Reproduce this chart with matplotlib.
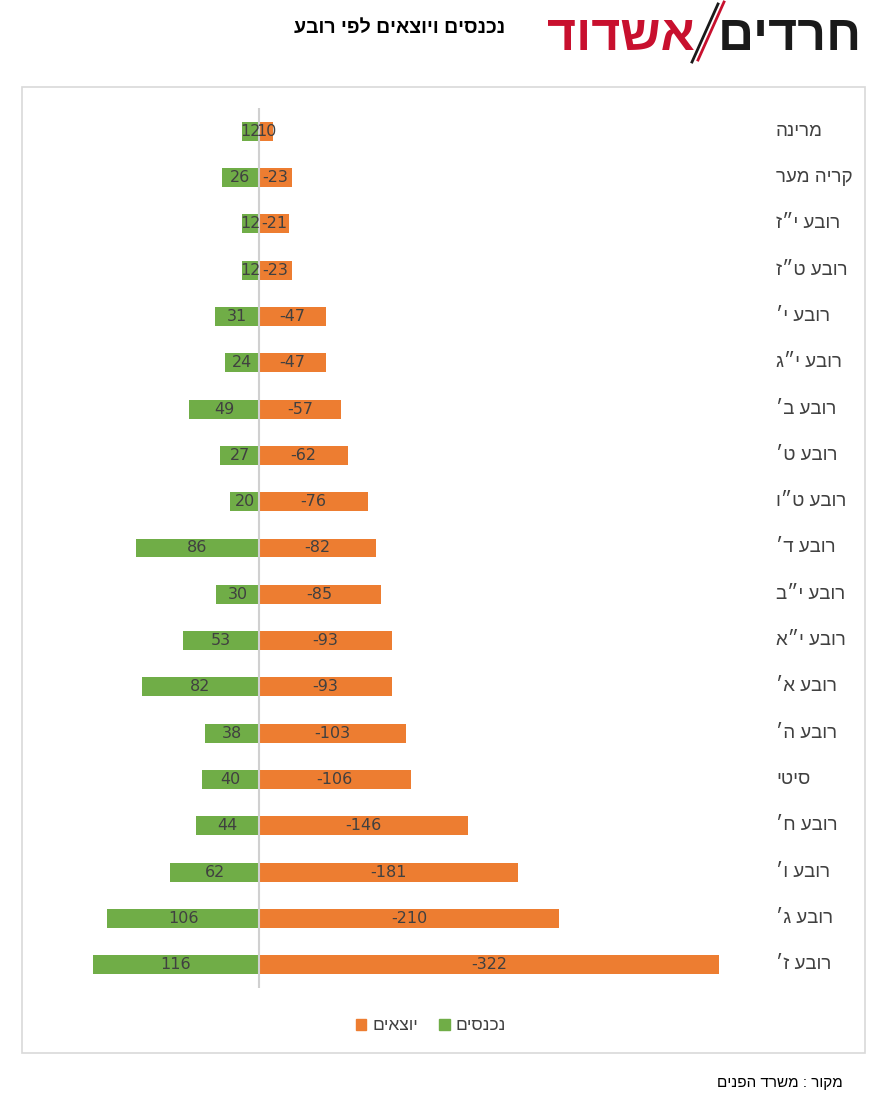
import matplotlib
matplotlib.use('Agg')
import matplotlib.pyplot as plt
from matplotlib.patches import Rectangle
from matplotlib.lines import Line2D
from matplotlib.transforms import blended_transform_factory

plt.rcParams['font.family'] = ['Liberation Sans', 'DejaVu Sans']

# data, top row first
areas = ['מרינה', 'קריה מער', 'רובע י״ז', 'רובע ט״ז', 'רובע י׳', 'רובע י״ג',
         'רובע ב׳', 'רובע ט׳', 'רובע ט״ו', 'רובע ד׳', 'רובע י״ב', 'רובע י״א',
         'רובע א׳', 'רובע ה׳', 'סיטי', 'רובע ח׳', 'רובע ו׳', 'רובע ג׳', 'רובע ז׳']
incoming = [12, 26, 12, 12, 31, 24, 49, 27, 20, 86, 30, 53, 82, 38, 40, 44, 62, 106, 116]
outgoing = [10, 23, 21, 23, 47, 47, 57, 62, 76, 82, 85, 93, 93, 103, 106, 146, 181, 210, 322]
out_labels = ['10', '-23', '-21', '-23', '-47', '-47', '-57', '-62', '-76', '-82', '-85',
              '-93', '-93', '-103', '-106', '-146', '-181', '-210', '-322']

title = 'נכנסים ויוצאים לפי רובע'
source = 'מקור : משרד הפנים'
leg_in = 'נכנסים'
leg_out = 'יוצאים'

GREEN = '#70ad47'
ORANGE = '#ed7d31'
TXT = '#404040'


def heb(s):
    # matplotlib has no bidi, so flip to visual order
    return s[::-1]


W, H = 890, 1110
fig = plt.figure(figsize=(W / 100, H / 100), dpi=100)

# chart frame
fig.patches.append(Rectangle((22 / W, 1 - 1053 / H), (865 - 22) / W, (1053 - 87) / H,
                             transform=fig.transFigure, fill=False,
                             edgecolor='#d9d9d9', lw=1.2))

ax = fig.add_axes([80 / W, 1 - 988 / H, (740 - 80) / W, (988 - 108) / H])
n = len(areas)
ys = list(range(n))
xmin = -(259 - 80) / 1.43
xmax = (740 - 259) / 1.43

ax.barh(ys, [-v for v in incoming], height=0.41, color=GREEN)
ax.barh(ys, outgoing, height=0.41, color=ORANGE)
ax.axvline(0, color='#d0d0d0', lw=1.5, zorder=3)

lab_tr = blended_transform_factory(fig.transFigure, ax.transData)
for y, a, b, lb in zip(ys, incoming, outgoing, out_labels):
    ax.text(-a / 2, y, str(a), ha='center', va='center', fontsize=11.5,
            color=TXT, zorder=4, family='DejaVu Sans')
    ax.text(b / 2, y, lb, ha='center', va='center', fontsize=11.5,
            color=TXT, zorder=4, family='DejaVu Sans')
    ax.text(776 / W, y, heb(areas[y]), ha='left', va='center', fontsize=13.5,
            color=TXT, transform=lab_tr)

ax.set_xlim(xmin, xmax)
ax.set_ylim(n - 0.5, -0.5)
ax.axis('off')

# legend: orange on the left, green on the right
handles = [Rectangle((0, 0), 1, 1, color=ORANGE), Rectangle((0, 0), 1, 1, color=GREEN)]
fig.legend(handles, [heb(leg_out), heb(leg_in)], loc='center', ncol=2,
           bbox_to_anchor=(431 / W, 1 - 1026 / H), frameon=False, fontsize=12.5,
           handlelength=0.6, handleheight=0.6, handletextpad=0.35, columnspacing=1.2,
           labelcolor=TXT)

# title and logo
fig.text(400 / W, 1 - 28 / H, heb(title), ha='center', va='center',
         fontsize=14, fontweight='bold', color='black')
fig.text(621 / W, 1 - 37 / H, heb('אשדוד'), ha='center', va='center',
         fontsize=36, fontweight='bold', color='#c8102e')
fig.text(790 / W, 1 - 37 / H, heb('חרדים'), ha='center', va='center',
         fontsize=36, fontweight='bold', color='#1a1a1a')
fig.lines.append(Line2D([692 / W, 718 / W], [1 - 62 / H, 1 - 4 / H],
                        transform=fig.transFigure, color='#1a1a1a', lw=2))
fig.lines.append(Line2D([698 / W, 724 / W], [1 - 60 / H, 1 - 2 / H],
                        transform=fig.transFigure, color='#c8102e', lw=2))

fig.text(843 / W, 1 - 1083 / H, heb(source), ha='right', va='center',
         fontsize=11, color='black')

fig.savefig('out.png', dpi=100, facecolor='white')
